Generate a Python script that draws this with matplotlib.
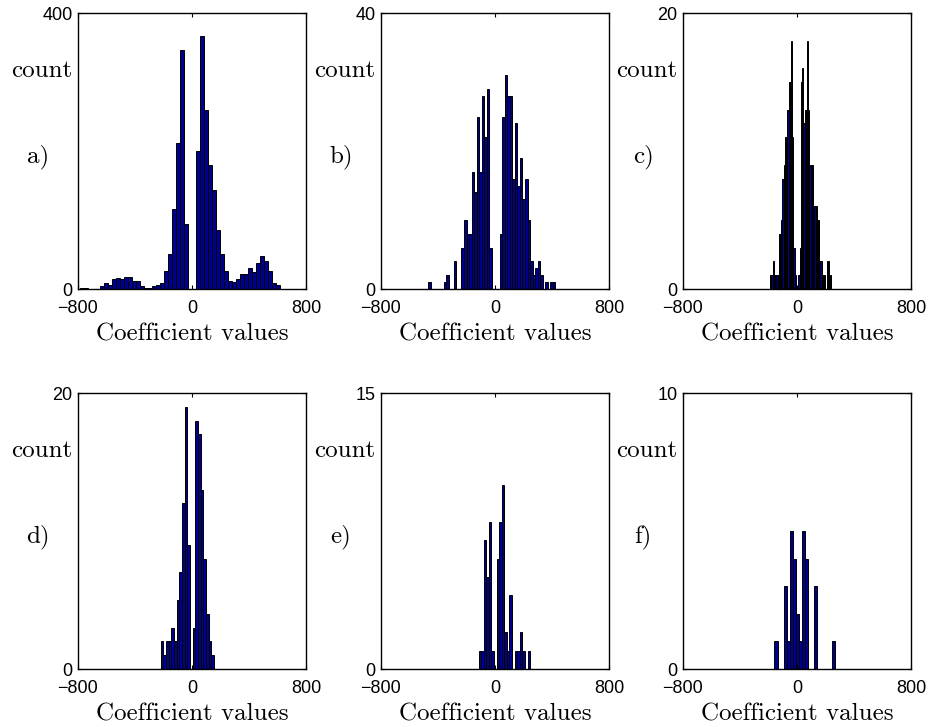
import numpy as np
import matplotlib
matplotlib.use("Agg")
import matplotlib.pyplot as plt

# ---------------- data ----------------
panel_names = ["a)", "b)", "c)", "d)", "e)", "f)"]
ymax = [400, 40, 20, 20, 15, 10]

# bin start (left edge of first bin) and bin width, in coefficient units
a_start, a_width = -784.0, 28.0
b_start, b_width = -467.0, 17.83
c_start, c_width = -188.0, 8.6
d_start, d_width = -218.6, 18.6
e_start, e_width = -115.0, 18.06
f_start, f_width = -158.0, 21.3

a_counts = [1, 1, 0, 0, 0, 4, 9, 6, 15, 16, 15, 17, 18, 11, 12, 4, 2, 2, 4, 6,
            9, 26, 51, 116, 211, 346, 94, 0, 0, 200, 367, 260, 180, 144, 85, 51, 26, 11, 10, 15,
            22, 22, 31, 25, 37, 48, 41, 26, 9, 6]
b_counts = [1, 0, 0, 0, 0, 0, 1, 2, 0, 0, 4, 0, 0, 6, 10, 8, 8, 17, 14, 25,
            17, 28, 22, 29, 6, 0, 0, 0, 8, 25, 31, 28, 28, 16, 24, 15, 19, 13, 16, 10,
            4, 2, 3, 4, 2, 0, 1, 0, 1, 1]
c_counts = [1, 1, 2, 1, 1, 1, 1, 4, 4, 5, 8, 9, 11, 11, 13, 15, 15, 18, 11, 3,
            1, 0, 0, 1, 3, 15, 16, 12, 13, 13, 18, 13, 9, 9, 9, 6, 6, 6, 5, 5,
            2, 2, 1, 1, 1, 0, 2, 2, 1, 1]
d_counts = [2, 1, 2, 2, 3, 2, 5, 7, 12, 19, 9, 0, 3, 18, 17, 13, 8, 4, 2, 1]
e_counts = [1, 1, 7, 5, 8, 1, 0, 6, 8, 10, 2, 1, 4, 0, 1, 1, 2, 1, 0, 1]
f_counts = [1, 0, 0, 3, 1, 5, 4, 2, 1, 5, 4, 0, 0, 3, 0, 0, 0, 0, 0, 1]

x_ticks = [-800, 0, 800]
x_tick_labels = ["\u2212800", "0", "800"]
x_label = "Coefficient values"
y_label = "count"

panels = [
    (a_start, a_width, a_counts),
    (b_start, b_width, b_counts),
    (c_start, c_width, c_counts),
    (d_start, d_width, d_counts),
    (e_start, e_width, e_counts),
    (f_start, f_width, f_counts),
]

# ---------------- figure ----------------
W, H = 929, 727
fig = plt.figure(figsize=(W / 100, H / 100), dpi=100)

col_left = [78, 381, 683]
ax_w = 228
row_top = [13, 393]
ax_h = 276

serif = "cmr10"
sans = "Liberation Sans"
bar_color = "#00008F"

for k, (start, width, counts) in enumerate(panels):
    r, c = divmod(k, 3)
    left = col_left[c] / W
    bottom = 1 - (row_top[r] + ax_h) / H
    ax = fig.add_axes([left, bottom, ax_w / W, ax_h / H])
    counts = np.asarray(counts, dtype=float)
    edges = start + width * np.arange(len(counts))
    ax.bar(edges, counts, width=width, align="edge", color=bar_color,
           edgecolor="black", linewidth=0.7)
    ax.set_xlim(-800, 800)
    ax.set_ylim(0, ymax[k])
    ax.set_xticks(x_ticks)
    ax.set_xticklabels(x_tick_labels, fontfamily=sans, fontsize=13)
    ax.set_yticks([0, ymax[k]])
    ax.set_yticklabels([str(0), str(ymax[k])], fontfamily=sans, fontsize=13)
    ax.tick_params(direction="in", length=3, width=0.8, top=True, right=True)
    ax.tick_params(axis="x", pad=8)
    ax.tick_params(axis="y", pad=4)
    for s in ax.spines.values():
        s.set_linewidth(1.0)
        s.set_color("black")
    ax.text(-0.026, 0.79, y_label, transform=ax.transAxes, ha="right",
            va="center", fontfamily=serif, fontsize=18)
    ax.text(-0.175, 0.478, panel_names[k], transform=ax.transAxes,
            ha="center", va="center", fontfamily=serif, fontsize=18)
    ax.text(0.5, -0.125, x_label, transform=ax.transAxes, ha="center",
            va="top", fontfamily=serif, fontsize=18)

fig.savefig("out.png", dpi=100)
